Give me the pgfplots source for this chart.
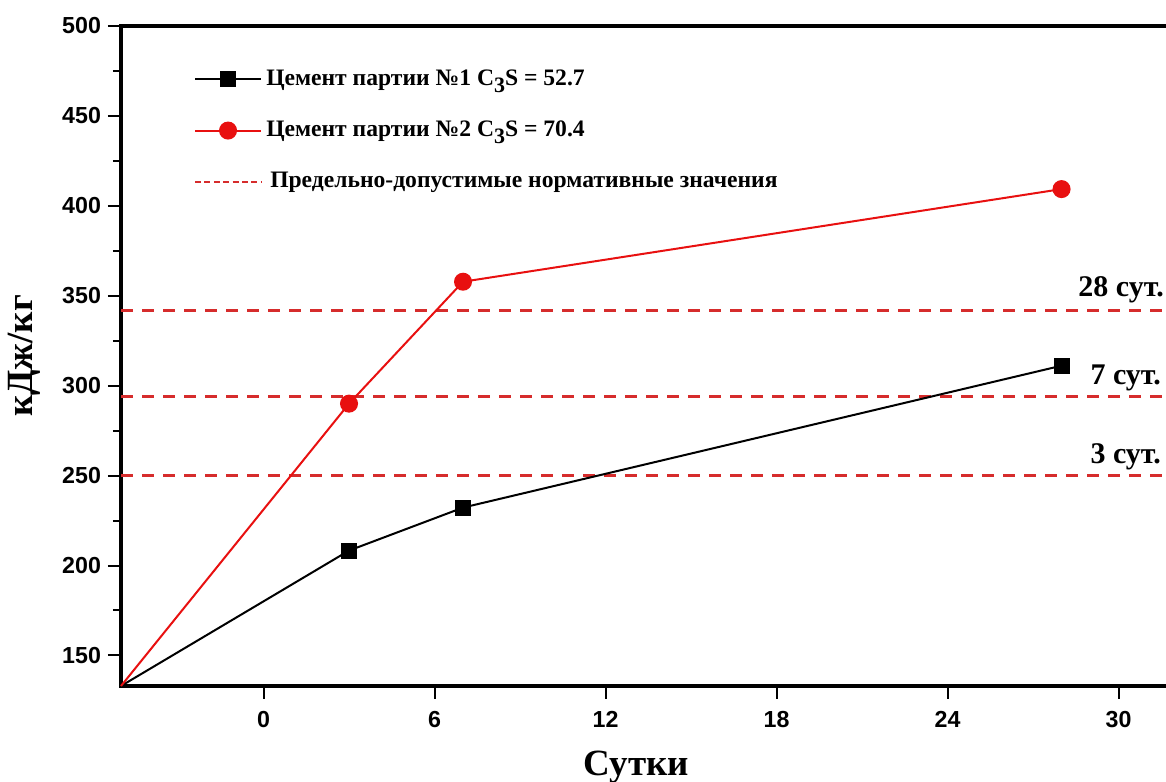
\documentclass[border=0pt]{standalone}
\usepackage{fontspec}
\setmainfont{Liberation Serif}
\newfontfamily\sansf{Liberation Sans}
\usepackage{pgfplots}
\pgfplotsset{compat=1.18}
\definecolor{lred}{RGB}{232,16,16}
\definecolor{dred}{RGB}{214,44,44}
\newcommand{\sub}[1]{\raisebox{-0.65ex}{\fontsize{11}{11}\selectfont #1}}
\begin{document}
\begin{tikzpicture}
\useasboundingbox (0,0) rectangle (583pt,390.5pt);
\begin{axis}[
  at={(60.5pt,47.5pt)}, anchor=south west,
  scale only axis, width=525pt, height=330pt,
  xmin=-5, xmax=31.84, ymin=133, ymax=500,
  xtick={0,6,...,30}, ytick={150,200,...,500}, minor y tick num=1,
  xtick pos=bottom, ytick pos=left, tick align=outside,
  major tick length=6.5pt, minor tick length=4pt,
  tick style={black, line width=1pt},
  axis line style={line width=1.6pt},
  tick label style={font=\sansf\bfseries\fontsize{11.6}{13}\selectfont},
  xticklabel style={yshift=-2.5pt},
  /pgf/number format/assume math mode=true,
  xlabel={Сутки}, ylabel={кДж/кг},
  every axis x label/.style={at={(axis description cs:0.491,0)}, anchor=north, yshift=-29pt, font=\bfseries\fontsize{18.5}{22}\selectfont},
  every axis y label/.style={at={(axis description cs:-0.092,0.5)}, anchor=center, rotate=90, font=\bfseries\fontsize{18.5}{22}\selectfont},
  legend style={draw=none, fill=none, at={(0.069,0.94)}, anchor=north west, font=\bfseries\fontsize{11.8}{14}\selectfont, row sep=12.3pt, inner sep=0pt},
  legend cell align=left,
  legend image code/.code={\draw[#1, mark indices={2}] plot coordinates {(0pt,0pt) (16.5pt,0pt) (33pt,0pt)};},
  clip=false,
]
\addplot[dred, line width=1.4pt, dash pattern=on 6pt off 4.5pt, forget plot] coordinates {(-5,342) (31.84,342)};
\addplot[dred, line width=1.4pt, dash pattern=on 6pt off 4.5pt, forget plot] coordinates {(-5,294) (31.84,294)};
\addplot[dred, line width=1.4pt, dash pattern=on 6pt off 4.5pt, forget plot] coordinates {(-5,250) (31.84,250)};

\addplot[black, line width=1pt, mark=square*, mark size=3.5pt, mark options={solid}, mark indices={2,3,4}] coordinates {(-5,133) (3,208.3) (7,232.2) (28,311.1)};
\addlegendentry{Цемент партии №1 C\sub{3}S = 52.7}
\addplot[lred, line width=1pt, mark=*, mark size=4pt, mark options={solid, fill=lred}, mark indices={2,3,4}] coordinates {(-5,133) (3,290) (7,357.8) (28,409.3)};
\addlegendentry{Цемент партии №2 C\sub{3}S = 70.4}
\addlegendimage{legend image code/.code={\draw[dred, line width=1.2pt, dash pattern=on 3pt off 1.7pt] (0pt,0pt) -- (33pt,0pt);}}
\addlegendentry{\hspace{2pt}Предельно-допустимые нормативные значения}

\node[anchor=base east, inner sep=0pt, font=\bfseries\fontsize{15}{18}\selectfont, yshift=7pt] at (axis cs:31.6,342) {28 сут.};
\node[anchor=base east, inner sep=0pt, font=\bfseries\fontsize{15}{18}\selectfont, yshift=6pt] at (axis cs:31.5,294) {7 сут.};
\node[anchor=base east, inner sep=0pt, font=\bfseries\fontsize{15}{18}\selectfont, yshift=6pt] at (axis cs:31.5,250) {3 сут.};
\end{axis}
\end{tikzpicture}
\end{document}
